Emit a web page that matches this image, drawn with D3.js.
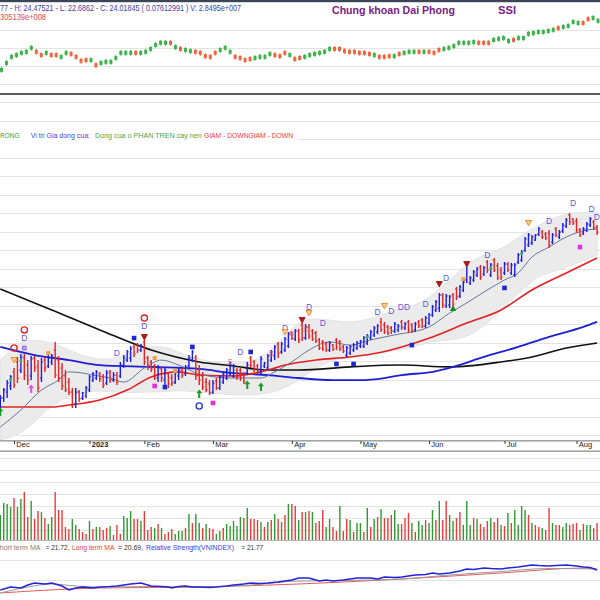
<!DOCTYPE html>
<html><head><meta charset="utf-8">
<script src="https://cdn.jsdelivr.net/npm/d3@7"></script>
<style>
body{margin:0;background:#fff}
svg{display:block}
text{font-family:"Liberation Sans",Arial,sans-serif}
</style>
</head><body>
<svg id="c" width="600" height="600"></svg>
<script>
// ---------------- DATA ----------------
const OPEN=[15.35,16.00,16.32,16.65,17.41,17.95,17.51,18.16,17.78,17.19,
18.16,17.73,17.08,18.05,17.73,17.95,18.59,18.05,17.62,17.19,
16.86,16.32,15.68,16.32,16.00,16.11,16.43,16.97,17.08,17.30,
17.14,16.81,17.41,16.97,17.24,17.19,17.78,18.05,18.16,18.76,
18.86,18.59,19.03,18.16,17.95,17.73,17.08,17.57,16.97,17.30,
17.08,16.86,17.19,17.51,17.30,17.73,18.05,18.16,17.51,17.19,
16.86,16.76,16.32,16.92,16.54,16.86,17.08,17.30,17.19,17.51,
17.51,17.30,17.35,18.16,17.95,17.73,17.41,17.73,17.62,18.05,
18.27,18.92,18.49,18.59,18.81,19.51,19.19,19.62,19.95,19.24,
19.84,19.62,19.51,19.14,19.03,18.92,18.59,18.86,19.14,19.03,
18.76,18.32,18.43,18.59,18.70,18.81,18.81,18.97,19.24,19.41,
19.57,20.11,19.95,19.84,19.78,19.62,19.68,20.11,19.78,20.11,
19.95,19.68,20.11,20.22,19.89,20.05,20.49,20.76,20.86,21.57,
20.97,21.03,21.57,21.89,21.51,21.84,22.38,22.22,22.38,22.65,
23.08,22.70,23.35,22.65,23.46,23.14,22.92,22.76,23.24,22.76,
22.65,23.35,23.46,24.00,24.27,24.38,24.54,24.86,24.97,24.86,
24.92,24.43,25.14,24.70,25.03,25.30,25.89,25.68,25.57,25.08,
24.92,25.08,25.35,25.51,25.24];
const HIGH=[16.16,16.54,16.97,17.24,17.62,18.22,18.38,18.38,18.05,18.27,
18.27,18.05,18.16,18.22,18.32,18.38,19.03,18.27,17.89,17.51,
17.08,16.54,16.54,16.43,16.32,16.65,17.24,17.41,17.51,17.41,
17.30,17.51,17.51,17.41,17.41,17.95,18.32,18.59,18.81,18.92,
18.97,18.92,19.30,18.27,18.05,17.84,17.78,17.68,17.62,17.41,
17.30,17.51,17.62,17.62,17.78,18.32,18.59,18.32,17.78,17.41,
17.08,16.97,16.97,17.08,17.24,17.41,17.62,17.95,17.84,17.62,
17.62,17.41,17.95,18.27,18.05,17.84,18.27,17.95,18.38,18.59,
18.86,19.03,19.03,19.30,19.57,19.57,19.73,19.73,20.16,20.00,
20.00,19.73,19.62,19.24,19.14,19.03,19.08,18.92,19.24,19.14,
18.86,18.81,18.86,18.97,19.08,19.14,19.35,19.46,19.68,19.89,
20.00,20.32,20.11,19.95,19.89,20.11,20.00,20.22,20.11,20.22,
20.05,20.11,20.22,20.32,20.43,20.59,21.03,21.30,21.68,21.68,
21.62,21.57,21.68,22.00,22.11,22.38,23.35,22.59,22.92,23.08,
23.19,23.14,23.46,23.30,23.57,23.30,23.08,23.35,23.35,23.30,
23.30,23.84,24.00,24.70,24.92,24.81,24.86,25.24,25.08,24.97,
25.08,24.92,25.24,25.08,25.46,25.73,26.00,25.73,25.73,25.19,
25.24,25.51,25.78,25.62,25.35];
const LOW=[15.08,15.78,16.00,16.43,16.54,16.81,17.35,16.97,16.70,16.97,
17.41,16.32,16.86,17.41,17.62,17.78,17.08,16.86,16.43,16.32,
16.16,15.46,15.46,15.78,15.89,16.00,16.32,16.86,16.97,16.86,
16.54,16.70,16.81,16.86,16.70,17.08,17.62,17.95,17.95,18.22,
18.43,18.49,17.78,17.51,17.41,16.97,16.86,16.86,16.65,16.54,
16.65,16.76,16.97,17.08,17.19,17.62,17.95,16.97,16.70,16.43,
16.32,16.16,16.22,16.43,16.43,16.76,16.97,17.19,17.08,16.97,
16.92,16.76,17.24,17.62,17.41,17.30,17.30,17.62,17.51,17.95,
18.05,18.16,18.38,18.49,18.70,19.14,19.08,18.97,19.08,19.14,
19.19,19.08,18.97,18.59,18.54,18.49,18.49,18.54,18.59,18.54,
18.43,18.22,18.32,18.49,18.59,18.70,18.70,18.86,19.14,19.30,
19.46,19.57,19.46,19.41,19.46,19.51,19.57,19.68,19.68,19.51,
19.51,19.57,19.78,19.78,19.78,19.95,20.38,20.65,20.65,20.86,
20.86,20.86,20.92,21.30,21.41,21.73,22.22,22.11,22.27,22.54,
22.38,22.59,22.76,22.54,22.81,22.38,22.38,22.65,22.81,22.65,
22.54,23.24,23.35,23.89,24.16,24.27,24.49,24.76,24.59,24.54,
24.11,24.32,24.70,24.59,24.92,25.19,25.35,25.35,24.92,24.70,
24.81,24.97,25.24,25.08,24.81];
const CLOSE=[16.00,16.43,16.81,17.14,16.70,17.08,18.22,17.24,16.97,18.11,
17.62,16.54,17.95,17.62,18.16,18.27,17.24,17.08,16.65,16.43,
16.32,15.62,16.32,15.95,16.27,16.54,17.14,17.30,17.41,17.03,
16.70,17.35,16.97,17.24,16.86,17.78,18.16,18.49,18.65,18.38,
18.59,18.81,17.95,17.73,17.57,17.14,17.62,17.08,17.51,16.76,
16.81,17.35,17.51,17.24,17.68,18.16,18.49,17.19,16.97,16.59,
16.43,16.27,16.81,16.54,17.14,17.30,17.51,17.78,17.68,17.14,
17.08,16.92,17.78,17.78,17.57,17.41,18.11,17.89,18.27,18.49,
18.76,18.43,18.92,19.19,19.46,19.24,19.62,19.14,19.24,19.84,
19.35,19.19,19.08,18.70,18.65,18.59,18.97,18.65,18.76,18.65,
18.54,18.70,18.76,18.86,18.97,19.08,19.24,19.35,19.57,19.78,
19.89,19.68,19.57,19.51,19.62,20.00,19.89,19.84,20.00,19.68,
19.62,20.00,19.89,19.89,20.32,20.49,20.92,21.19,21.57,21.03,
21.51,21.46,21.08,21.46,22.00,22.27,23.19,22.49,22.81,22.97,
22.54,23.03,22.92,23.19,22.92,22.49,22.54,23.24,22.92,23.19,
23.19,23.73,23.89,24.59,24.81,24.70,24.81,25.14,24.70,24.65,
24.27,24.81,24.81,24.97,25.35,25.62,25.51,25.46,25.08,24.81,
25.14,25.41,25.68,25.19,24.97];
// volume, millions of shares
const VOLUME=[22.5,32.5,31.7,29.2,36.7,29.2,35.8,41.7,20.8,34.2,
19.2,25.8,25.0,20.0,15.0,20.8,41.7,26.7,26.7,12.5,
10.8,19.2,14.2,10.8,8.3,6.7,17.5,10.8,12.5,12.5,
10.0,11.7,13.3,5.8,14.2,6.7,21.7,20.0,25.8,19.2,
19.2,17.5,25.8,10.0,12.5,11.7,15.0,11.7,6.7,8.3,
10.8,6.7,9.2,9.2,11.7,23.3,15.8,23.3,15.8,11.7,
15.0,11.7,10.8,6.7,9.2,11.7,15.0,13.3,17.5,13.3,
20.8,20.0,28.3,19.2,19.2,18.3,16.7,12.5,16.7,18.3,
23.3,19.2,16.7,22.5,31.7,31.7,30.0,18.3,
25.0,25.0,25.8,25.0,15.8,17.5,26.7,12.5,19.2,12.5,
9.2,30.0,9.2,19.2,18.3,8.3,15.8,15.8,8.3,28.3,
12.5,19.2,20.8,27.5,20.0,20.0,22.5,26.7,15.0,15.0,
20.0,24.2,15.8,8.3,17.5,14.2,18.3,15.8,26.7,18.3,
34.2,18.3,34.2,22.5,17.5,20.0,25.0,14.2,34.2,14.2,
20.0,19.2,15.0,12.5,17.5,20.0,16.7,20.0,14.2,13.3,
24.2,15.8,26.7,14.2,30.0,26.7,22.5,15.8,14.2,12.5,
11.7,10.0,28.3,15.8,14.2,14.2,12.5,15.8,14.2,15.0,
15.8,10.0,15.0,14.2,14.2,11.7,15.8];
// volume bar direction: g = up day, r = down day
const VOLUME_DIR="ggggrggrrgrrgrggrrrrrggrrrgrgrrrgrrrgggrrgrrrgrgrrrgggrgrggrgrrggrgggggrgrrrgrgrgrgrgrrg"+
"rgrgrrrggrrgrrgrggrgrgrgrrrggrrrgrggrggrgrrggrrgggrgrrrgrrgrgrggggrgrrgrrgrrggrrrgrggrr";

const MONTH_IDX=[4,26,42,62,85,105,125,147,168];
const MONTH_LABELS=["Dec","2023","Feb","Mar","Apr","May","Jun","Jul","Aug"];

// moving averages [day index, price]
const MA_SHORT=[[0,14.43],[6,15.35],[12,16.43],[17,16.97],[20,17.41],[24,17.35],[27,17.24],[32,17.08],[36,16.86],[42,17.62],[47,18.05],[52,17.78],[58,17.30],[67,17.08],[76,17.08],[80,17.41],[85,17.95],[90,18.59],[96,19.03],[102,18.86],[108,19.14],[115,19.41],[125,19.84],[131,20.59],[136,21.14],[142,21.84],[147,22.38],[151,22.76],[155,23.62],[160,24.16],[165,24.70],[171,25.08],[174,25.14]];
const MA_MID=[[0,15.51],[15,15.51],[20,15.62],[29,15.89],[37,16.43],[44,17.14],[52,17.41],[58,17.24],[68,17.19],[78,17.51],[83,17.78],[92,18.05],[102,18.22],[110,18.43],[117,18.76],[126,19.30],[136,20.05],[146,20.76],[155,21.84],[165,22.76],[174,23.57]];
const MA_LONG=[[0,18.76],[10,18.32],[20,18.05],[29,17.78],[44,17.68],[58,17.57],[68,17.35],[78,17.24],[87,17.08],[97,16.97],[105,16.97],[112,17.08],[117,17.24],[126,17.41],[132,17.68],[141,18.22],[151,18.76],[160,19.30],[170,19.84],[174,20.11]];
const MA_200=[[0,21.89],[15,20.76],[29,19.68],[44,18.59],[58,17.95],[68,17.73],[78,17.51],[87,17.51],[102,17.68],[117,17.78],[131,17.68],[146,17.95],[155,18.22],[165,18.70],[174,18.97]];
// envelope band [day index, upper, lower]
const BAND=[[0,18.05,13.73],[6,19.14,14.00],[12,19.14,15.08],[17,18.86,15.89],[23,18.32,16.27],[29,18.05,16.43],[35,18.16,16.27],[41,18.70,16.32],[47,18.86,16.32],[52,18.49,16.43],[58,18.05,16.32],[67,17.78,16.16],[76,18.05,16.16],[82,19.14,16.43],[87,20.22,16.97],[93,20.32,17.78],[99,20.11,18.16],[105,20.11,18.22],[111,20.49,18.49],[117,20.86,18.59],[122,21.03,18.86],[128,21.84,19.14],[134,22.92,19.14],[140,23.73,19.68],[146,24.00,20.76],[152,24.81,21.84],[157,25.35,22.65],[163,25.89,22.92],[169,26.05,23.35],[174,26.05,23.73]];
// signal markers [type, day index, price]
const MARKERS=[["arrowG",0,15.24],["triO",4,18.05],["circR",4,18.70],["circR",7,19.68],["D",7,19.24],["sqP",7,18.70],["arrowP",9,16.49],["sqO",14,18.43],["dotG",3,17.0],["dotG",6,18.0],
["D",34,18.43],["sqB",39,19.24],["D",42,19.89],["circR",42,20.32],["triR",42,19.30],["sqO",45,18.16],["sqM",45,16.65],["sqB",48,16.59],["sqO",51,17.46],["sqB",56,18.76],["arrowG",58,16.22],["circB",58,15.57],["sqM",62,15.73],
["S",67,17.95],["D",70,18.49],["sqB",73,18.49],["arrowG",72,16.70],["arrowG",76,16.59],["S",79,18.43],["D",83,19.78],["triO",83,19.57],["S",85,19.51],["triR",88,20.22],["S",89,19.68],["D",90,20.92],["triO",90,20.59],["D",94,20.05],["sqB",98,17.84],["sqB",103,17.84],["dotG",107,19.3],
["D",110,20.65],["triO",112,20.97],["D",114,20.70],["D",116.8,20.92],["D",118.6,20.92],["sqB",120,18.86],["D",124,21.08],["triR",128,22.16],["D",130,22.49],["triG",132,20.86],["sqO",135,22.43],["triR",136,23.24],["D",142,23.73],["dotG",143,23.0],["sqB",147,21.95],["dotG",152,23.8],["triO",154,25.46],["D",160,25.57],["D",167,26.54],["sqM",169,24.16],["D",172.4,26.2],["D",173.9,25.8]];

// relative strength vs VNINDEX [day index, value]
const RS_LINE=[[0,19.0],[3,19.3],[6,19.2],[8,19.5],[10,19.7],[13,19.6],[15,19.7],[18,19.4],[20,19.0],[22,19.2],[24,19.3],[27,19.2],[29,19.3],[32,19.35],[34,19.4],[38,19.6],[41,19.7],[44,19.4],[47,19.35],[49,19.3],[50,19.2],[52,19.35],[54,19.4],[56,19.3],[58,19.3],[61,19.25],[63,19.3],[66,19.4],[68,19.5],[71,19.6],[73,19.7],[76,19.65],[78,19.7],[81,19.8],[83,19.9],[85,20.0],[87,20.2],[90,20.2],[92,20.0],[93,19.9],[95,20.0],[97,19.9],[100,20.0],[104,20.2],[108,20.2],[110,20.1],[112,20.3],[115,20.25],[117,20.3],[119,20.4],[121,20.5],[124,20.55],[126,20.7],[128,20.6],[131,20.7],[134,20.9],[136,21.1],[138,21.05],[141,21.2],[143,21.15],[146,21.1],[148,21.2],[151,21.3],[153,21.4],[155,21.5],[157,21.45],[160,21.4],[162,21.45],[165,21.5],[168,21.4],[170,21.3],[172,21.25],[174,21.0]];
const RS_SHORT=[[0,18.7],[8,19.3],[15,19.6],[22,19.4],[29,19.3],[44,19.35],[58,19.3],[73,19.5],[87,19.9],[100,19.95],[117,20.1],[131,20.5],[146,20.85],[160,21.15],[174,21.1]];
const RS_LONG=[[0,18.7],[29,19.2],[58,19.3],[87,19.6],[117,20.1],[146,20.7],[170,21.2],[174,21.05]];

// overview mini chart: mid price per candle and direction
const MINI=[13.8,15.7,17.4,17.9,18.5,18.8,19.9,18.8,17.9,18.5,
17.9,17.9,17.4,18.5,18.2,17.4,16.3,16.5,16.5,15.1,
15.7,16.0,16.0,17.1,18.5,18.5,18.5,18.5,18.5,18.8,
19.6,20.7,21.3,21.3,21.3,20.1,19.6,19.3,19.0,18.8,
18.5,17.6,17.4,18.5,19.3,19.9,18.8,17.4,17.1,16.5,
16.8,17.1,17.4,17.4,18.2,17.9,17.6,18.5,17.9,16.8,
17.1,17.4,17.9,18.2,18.5,18.8,19.6,19.6,19.6,19.0,
18.8,18.8,18.5,18.5,18.2,17.9,17.4,17.4,17.6,17.6,
18.2,18.5,18.8,18.8,18.8,18.8,18.8,18.5,19.3,19.6,
19.9,20.4,21.3,21.3,21.3,21.5,21.3,21.3,21.3,22.1,
22.4,22.6,21.8,22.1,22.6,22.6,23.8,24.0,24.3,24.3,
24.6,24.9,25.4,25.7,26.0,27.1,26.8,26.8,27.9,28.2,27.4];
const MINI_DIR="gggggggrrgrrggrrrrgrgggggggrggggggrgrggrrrrrgggrrrrggggrrrgrrggggggrrrrrrrrgrrrgrgggrgrrrgggggggrrrggggrggggggggrggggrrgggr";

// ---------------- DRAW ----------------
const svg=d3.select("#c");
const BLUE="#1c1ce6", RED="#e62222", VGREEN="#2f9a2f", VRED="#ea3b3b";

const x=d3.scaleLinear().domain([0,174]).range([0.3,597.1]);
const y=d3.scaleLinear().domain([14,32]).range([435,102]);
const yv=d3.scaleLinear().domain([0,10]).range([542,530]);
const yr=d3.scaleLinear().domain([20,22]).range([580,560]);
const xm=d3.scaleLinear().domain([0,MINI.length-1]).range([1.5,598]);
const ym=d3.scaleLinear().domain([10,25]).range([83.5,29.5]);

const defs=svg.append("defs");
defs.append("clipPath").attr("id","clipMain").append("rect").attr("x",0).attr("y",95).attr("width",600).attr("height",346);
defs.append("clipPath").attr("id","clipVol").append("rect").attr("x",0).attr("y",452).attr("width",600).attr("height",88);

svg.append("rect").attr("width",600).attr("height",600).attr("fill","#fff");

// gridlines
const grid=svg.append("g").attr("stroke","#e4e4e4").attr("stroke-width",1);
grid.selectAll(".gm").data([10,15,20,25]).join("line").attr("x1",0).attr("x2",600).attr("y1",d=>Math.round(ym(d))+0.5).attr("y2",d=>Math.round(ym(d))+0.5);
grid.selectAll(".gp").data(d3.range(14,33)).join("line").attr("class","gp").attr("x1",0).attr("x2",600).attr("y1",d=>Math.round(y(d))+0.5).attr("y2",d=>Math.round(y(d))+0.5);
grid.selectAll(".gv").data(d3.range(10,80,10)).join("line").attr("class","gv").attr("x1",0).attr("x2",600).attr("y1",d=>Math.round(yv(d))+0.5).attr("y2",d=>Math.round(yv(d))+0.5);
grid.selectAll(".gr").data([20,22]).join("line").attr("class","gr").attr("x1",0).attr("x2",600).attr("y1",d=>Math.round(yr(d))+0.5).attr("y2",d=>Math.round(yr(d))+0.5);

// frames
svg.append("rect").attr("x",0).attr("y",0).attr("width",600).attr("height",2.2).attr("fill","#3a4656");
svg.append("rect").attr("x",0).attr("y",93).attr("width",600).attr("height",2).attr("fill","#5c5c5c");
svg.append("line").attr("x1",0).attr("x2",600).attr("y1",441).attr("y2",441).attr("stroke","#4a4a4a").attr("stroke-width",1.2);
svg.append("line").attr("x1",0).attr("x2",600).attr("y1",451).attr("y2",451).attr("stroke","#4a4a4a").attr("stroke-width",1.2);
svg.append("rect").attr("x",0).attr("y",441.6).attr("width",600).attr("height",8.8).attr("fill","#fff");
svg.append("line").attr("x1",0).attr("x2",600).attr("y1",540.5).attr("y2",540.5).attr("stroke","#b8b8b8").attr("stroke-width",1);

// mini overview candles
const mini=svg.append("g");
mini.selectAll("g").data(MINI).join("g").each(function(v,k){
  const g=d3.select(this), c=MINI_DIR[k]==="g"?"#3bb54a":"#f0643c";
  g.append("line").attr("x1",xm(k)).attr("x2",xm(k)).attr("y1",ym(v)-3).attr("y2",ym(v)+3).attr("stroke",c).attr("stroke-width",0.8);
  g.append("rect").attr("x",xm(k)-1.5).attr("y",ym(v)-2).attr("width",3).attr("height",4).attr("fill",c);
});

// header texts
const head=svg.append("g");
head.append("text").attr("x",0).attr("y",11).attr("font-size",8.5).attr("fill","#3f3fa6").attr("textLength",241).attr("lengthAdjust","spacingAndGlyphs")
  .text("77 - H: 24.47521 - L: 22.6862 - C: 24.01845 ( 0.07612991 ) V: 2.8495e+007");
head.append("text").attr("x",0).attr("y",20).attr("font-size",8.5).attr("fill","#e84848").attr("textLength",46).attr("lengthAdjust","spacingAndGlyphs").text("305139e+008");
head.append("text").attr("x",332).attr("y",14).attr("font-size",11).attr("font-weight","bold").attr("fill","#7b2087").attr("textLength",123).attr("lengthAdjust","spacingAndGlyphs").text("Chung khoan Dai Phong");
head.append("text").attr("x",498).attr("y",14).attr("font-size",11.5).attr("font-weight","bold").attr("fill","#7b2087").attr("textLength",18).attr("lengthAdjust","spacingAndGlyphs").text("SSI");

// signal text row
svg.append("rect").attr("x",0).attr("y",128).attr("width",298).attr("height",17).attr("fill","#fff");
const row=[["RONG","#3c9c3c",0,19.5],["Vi tri Gia dong cua:","#4646e0",30.7,59.3],["Dong cua o PHAN TREN cay nen","#4aa84a",95,106.7],["GIAM - DOWNGIAM - DOWN","#f03a3a",204,89]];
svg.append("g").selectAll("text").data(row).join("text").attr("x",d=>d[2]).attr("y",137.5).attr("font-size",7.5).attr("fill",d=>d[1])
  .attr("textLength",d=>d[3]).attr("lengthAdjust","spacingAndGlyphs").text(d=>d[0]);

// main plot
const main=svg.append("g").attr("clip-path","url(#clipMain)");
main.append("path").datum(BAND).attr("d",d3.area().x(d=>x(d[0])).y0(d=>y(d[2])).y1(d=>y(d[1])).curve(d3.curveBasis))
  .attr("fill","#ebebeb").attr("stroke","#dedede").attr("stroke-width",0.8);
const ln=d3.line().x(d=>x(d[0])).y(d=>y(d[1])).curve(d3.curveMonotoneX);
main.append("path").datum(MA_200).attr("d",ln).attr("fill","none").attr("stroke","#111").attr("stroke-width",1.6);
main.append("path").datum(MA_LONG).attr("d",ln).attr("fill","none").attr("stroke","#1f1fd2").attr("stroke-width",1.8);
main.append("path").datum(MA_MID).attr("d",ln).attr("fill","none").attr("stroke","#e42222").attr("stroke-width",1.6);
main.append("path").datum(MA_SHORT).attr("d",ln).attr("fill","none").attr("stroke","#67759c").attr("stroke-width",1);

const bars=main.append("g");
bars.selectAll("g").data(d3.range(CLOSE.length)).join("g").each(function(i){
  const g=d3.select(this), c=CLOSE[i]>=OPEN[i]?BLUE:RED, cx=x(i);
  g.append("line").attr("x1",cx).attr("x2",cx).attr("y1",y(HIGH[i])).attr("y2",y(LOW[i])).attr("stroke",c).attr("stroke-width",1.4);
  g.append("line").attr("x1",cx-1.6).attr("x2",cx).attr("y1",y(OPEN[i])).attr("y2",y(OPEN[i])).attr("stroke",c).attr("stroke-width",1);
  g.append("line").attr("x1",cx).attr("x2",cx+1.6).attr("y1",y(CLOSE[i])).attr("y2",y(CLOSE[i])).attr("stroke",c).attr("stroke-width",1);
});

// markers
const mk=main.append("g");
MARKERS.forEach(([t,i,p])=>{
  const cx=x(i), cy=y(p);
  if(t==="D"){mk.append("text").attr("x",cx).attr("y",cy+3).attr("text-anchor","middle").attr("font-size",8.5).attr("fill","#5a5ad8").text("D");}
  else if(t==="S"){mk.append("text").attr("x",cx).attr("y",cy+2.5).attr("text-anchor","middle").attr("font-size",7).attr("fill","#e06060").text("S");}
  else if(t==="circR"||t==="circB"){mk.append("circle").attr("cx",cx).attr("cy",cy).attr("r",3.1).attr("fill","none").attr("stroke",t==="circR"?"#e02020":"#2030d0").attr("stroke-width",1.3);}
  else if(t==="triO"||t==="triR"){mk.append("path").attr("d",`M${cx-3},${cy-2.5}L${cx+3},${cy-2.5}L${cx},${cy+2.8}Z`)
     .attr("fill",t==="triO"?"#fbd09a":"#a81c1c").attr("stroke",t==="triO"?"#f08a24":"#a81c1c").attr("stroke-width",1);}
  else if(t==="triG"){mk.append("path").attr("d",`M${cx-3.2},${cy+2.8}L${cx+3.2},${cy+2.8}L${cx},${cy-3}Z`).attr("fill","#1c8c1c");}
  else if(t==="sqB"||t==="sqM"||t==="sqO"||t==="sqP"){
    const col={sqB:"#1c28d0",sqM:"#e030e0",sqO:"#f5a040",sqP:"#8a5cc8"}[t], s=t==="sqO"?4:4.6;
    mk.append("rect").attr("x",cx-s/2).attr("y",cy-s/2).attr("width",s).attr("height",s).attr("fill",col);
    if(t==="sqP"){mk.append("path").attr("d",`M${cx-1.6},${cy-1.6}L${cx+1.6},${cy+1.6}M${cx+1.6},${cy-1.6}L${cx-1.6},${cy+1.6}`).attr("stroke","#fff").attr("stroke-width",0.7);}
  }
  else if(t==="arrowG"||t==="arrowP"){
    mk.append("path").attr("d",`M${cx},${cy-4.5}L${cx+3},${cy-0.8}L${cx+1},${cy-0.8}L${cx+1},${cy+4}L${cx-1},${cy+4}L${cx-1},${cy-0.8}L${cx-3},${cy-0.8}Z`)
      .attr("fill",t==="arrowG"?"#1a9a2a":"#e04ee0");
  }
  else if(t==="dotG"){mk.append("path").attr("d",`M${cx},${cy-2}L${cx+1.8},${cy}L${cx},${cy+2}L${cx-1.8},${cy}Z`).attr("fill","#3cb043");}
});

// date axis
const ax=d3.axisBottom(x).tickValues(MONTH_IDX).tickFormat((d,k)=>MONTH_LABELS[k]).tickSize(3).tickPadding(0);
const gA=svg.append("g").attr("transform","translate(0,441)").call(ax);
gA.select(".domain").remove();
gA.selectAll("line").attr("stroke","#333");
gA.selectAll("text").attr("text-anchor","start").attr("x",1.8).attr("y",1).attr("dy","0.71em")
  .attr("font-size",7.5).attr("fill","#222").attr("font-family","Liberation Sans, Arial, sans-serif")
  .attr("font-weight",(d,k)=>k===1?"bold":"normal");

// volume
const vol=svg.append("g").attr("clip-path","url(#clipVol)");
vol.selectAll("line").data(VOLUME).join("line").attr("x1",(d,i)=>x(i)).attr("x2",(d,i)=>x(i))
  .attr("y1",yv(0)).attr("y2",d=>yv(d)).attr("stroke",(d,i)=>VOLUME_DIR[i]==="g"?VGREEN:VRED).attr("stroke-width",1.4);

// relative strength label
const rsTxt=[["Short term MA","#808080",-5,45.5],["= 21.72,","#303030",45.5,24],["Long term MA","#e84040",72,42.5],["= 20.69,","#303030",118,25],["Relative Strength(VNINDEX)","#3a3ae0",146,88],["= 21.77","#303030",241.5,21.5]];
svg.append("g").selectAll("text").data(rsTxt).join("text").attr("x",d=>d[2]).attr("y",549.5).attr("font-size",7.6).attr("fill",d=>d[1])
  .attr("textLength",d=>d[3]).attr("lengthAdjust","spacingAndGlyphs").text(d=>d[0]);

const lr=d3.line().x(d=>x(d[0])).y(d=>yr(d[1]));
svg.append("path").datum(RS_LONG).attr("d",lr.curve(d3.curveMonotoneX)).attr("fill","none").attr("stroke","#e85a5a").attr("stroke-width",1);
svg.append("path").datum(RS_SHORT).attr("d",lr.curve(d3.curveMonotoneX)).attr("fill","none").attr("stroke","#9a9a9a").attr("stroke-width",1);
svg.append("path").datum(RS_LINE).attr("d",lr.curve(d3.curveLinear)).attr("fill","none").attr("stroke","#2323d8").attr("stroke-width",1.5);
</script>
</body></html>
